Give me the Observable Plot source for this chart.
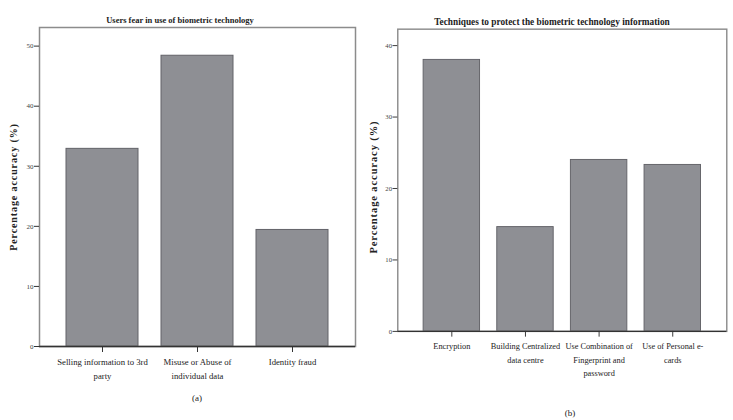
<!DOCTYPE html>
<html>
<head>
<meta charset="utf-8">
<script src="https://cdn.jsdelivr.net/npm/d3@7"></script>
<script src="https://cdn.jsdelivr.net/npm/@observablehq/plot@0.6"></script>
<style>
  html, body { margin: 0; padding: 0; background: #fff; overflow: hidden; }
  #wrap { position: relative; width: 733px; height: 420px; overflow: hidden; background: #fff; font-family: "Liberation Serif", "DejaVu Serif", serif; color: #222; }
  .abs { position: absolute; white-space: nowrap; transform: translate(-50%, -50%); }
  .title { font-weight: bold; color: #222; }
  .ylab { font-weight: bold; font-size: 10px; letter-spacing: 0.9px; transform: translate(-50%, -50%) rotate(-90deg); }
  .cap { font-size: 9px; }
</style>
</head>
<body>
<div id="wrap">
  <div id="left" style="position:absolute;left:0;top:0"></div>
  <div id="right" style="position:absolute;left:360px;top:0"></div>
  <div class="abs title" style="left:180px;top:20px;font-size:8.5px">Users fear in use of biometric technology</div>
  <div class="abs title" style="left:552px;top:22px;font-size:9.3px">Techniques to protect the biometric technology information</div>
  <div class="abs ylab" style="left:13px;top:187px">Percentage accuracy (%)</div>
  <div class="abs ylab" style="left:373px;top:187px;font-size:10.5px">Percentage accuracy (%)</div>
  <div class="abs cap" style="left:197px;top:398px">(a)</div>
  <div class="abs cap" style="left:570px;top:413px">(b)</div>
</div>
<script>
const leftCategories = ["Selling information to 3rd party", "Misuse or Abuse of individual data", "Identity fraud"];
const leftTickLabels = ["Selling information to 3rd\nparty", "Misuse or Abuse of\nindividual data", "Identity fraud"];
const leftValues = [32.9, 48.4, 19.4];
const leftTicks = [0, 10, 20, 30, 40, 50];

const rightCategories = ["Encryption", "Building Centralized data centre", "Use Combination of Fingerprint and password", "Use of Personal e-cards"];
const rightTickLabels = ["Encryption", "Building Centralized\ndata centre", "Use Combination of\nFingerprint and\npassword", "Use of Personal e-\ncards"];
const rightValues = [38.0, 14.6, 24.0, 23.3];
const rightTicks = [0, 10, 20, 30, 40];

function panel(categories, tickLabels, values, ticks, opts) {
  const data = categories.map((c, i) => ({category: c, value: values[i]}));
  return Plot.plot({
    width: opts.width,
    height: 420,
    marginLeft: 39,
    marginRight: opts.marginRight,
    marginTop: opts.marginTop,
    marginBottom: 74,
    style: {fontFamily: "'Liberation Serif', 'DejaVu Serif', serif", fontSize: "8.5px", color: "#333", background: "transparent"},
    x: {domain: categories, paddingInner: opts.paddingInner, paddingOuter: opts.paddingOuter, label: null},
    y: {domain: [0, opts.yMax], label: null},
    marks: [
      Plot.barY(data, {x: "category", y: "value", fill: "#8e8f94", stroke: "#626268", strokeWidth: 1}),
      Plot.frame({stroke: "#8c8c8c", strokeWidth: 1.5}),
      Plot.ruleY([0], {stroke: "#333", strokeWidth: 1.5}),
      Plot.axisY({ticks: ticks, tickSize: 5, tickPadding: 1, fontSize: 7, fill: "#444", tickFormat: d => String(d), label: null}),
      Plot.axisX({tickSize: 6, tickPadding: 3, lineHeight: 1.6, fontSize: 8.7, fill: "#222",
        tickFormat: d => tickLabels[categories.indexOf(d)], label: null})
    ]
  });
}

document.getElementById("left").append(
  panel(leftCategories, leftTickLabels, leftValues, leftTicks,
    {width: 365, marginRight: 10, marginTop: 27, yMax: 53.1, paddingInner: 0.246, paddingOuter: 0.277})
);
document.getElementById("right").append(
  panel(rightCategories, rightTickLabels, rightValues, rightTicks,
    {width: 390, marginRight: 7, marginTop: 30, yMax: 42.3, paddingInner: 0.24, paddingOuter: 0.333})
);
</script>
</body>
</html>
